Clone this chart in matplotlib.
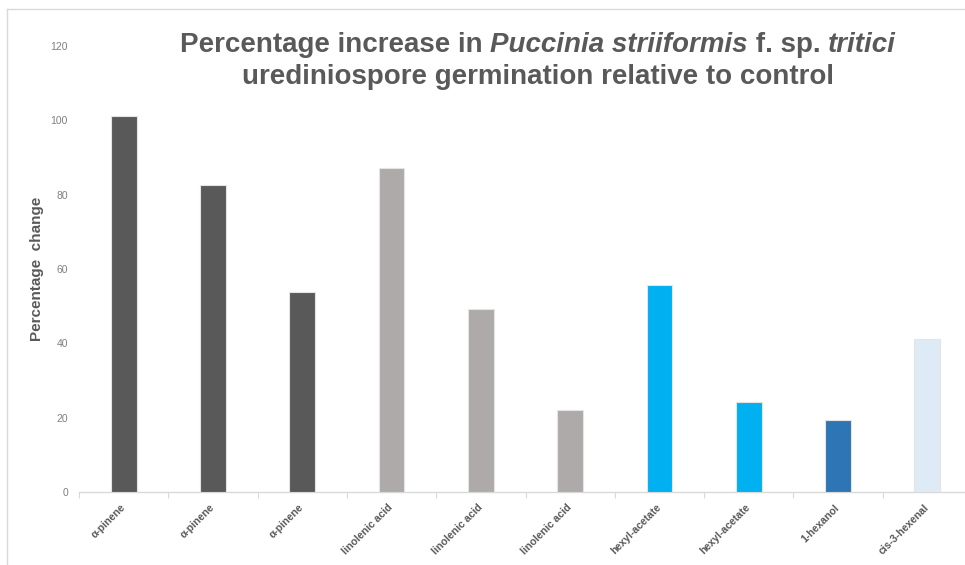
import matplotlib
matplotlib.use("Agg")
import matplotlib.pyplot as plt
from matplotlib.lines import Line2D

# Data
compounds = ["α-pinene", "α-pinene", "α-pinene",
             "linolenic acid", "linolenic acid", "linolenic acid",
             "hexyl-acetate", "hexyl-acetate", "1-hexanol", "cis-3-hexenal"]
pct_change = [101.3, 82.5, 53.8, 87.1, 49.3, 22.0, 55.7, 24.1, 19.4, 41.3]
bar_colors = ["#595959", "#595959", "#595959",
              "#AEAAAA", "#AEAAAA", "#AEAAAA",
              "#00B0F0", "#00B0F0", "#2E75B6", "#DEEBF7"]
y_ticks = [0, 20, 40, 60, 80, 100, 120]

plt.rcParams["font.family"] = ["Liberation Sans", "DejaVu Sans"]

W, H = 965, 565
fig = plt.figure(figsize=(W / 100, H / 100), dpi=100)
fig.patch.set_facecolor("white")

ax = fig.add_axes([79 / W, 73 / H, 893 / W, 446 / H])
x = list(range(len(compounds)))
ax.bar(x, pct_change, width=0.29, color=bar_colors,
       edgecolor="#E4E4E4", linewidth=0.8, zorder=3)

ax.set_xlim(-0.5, len(compounds) - 0.5)
ax.set_ylim(0, 120)
ax.set_yticks(y_ticks)
ax.set_yticklabels([str(t) for t in y_ticks], color="#808080", fontsize=7.5)
ax.tick_params(axis="y", length=0, pad=8)

ax.set_xticks(x)
ax.set_xticklabels(compounds, rotation=45, ha="right", va="center",
                   rotation_mode="anchor", fontsize=7.6, fontweight="bold",
                   color="#595959")
ax.tick_params(axis="x", which="major", length=0, pad=10)
ax.set_xticks([i - 0.5 for i in range(len(compounds) + 1)], minor=True)
ax.tick_params(axis="x", which="minor", length=4, color="#D9D9D9", width=0.8)

for side in ["top", "right", "left"]:
    ax.spines[side].set_visible(False)
ax.spines["bottom"].set_color("#D9D9D9")
ax.spines["bottom"].set_linewidth(1.0)

ax.set_ylabel("Percentage  change", fontsize=11, fontweight="bold",
              color="#595959", labelpad=14)
ax.yaxis.set_label_coords(-35 / 893, 0.5)

# Title with italic species name, drawn piece by piece
title_color = "#595959"
title_size = 20
line1 = [("Percentage increase in ", "normal"),
         ("Puccinia striiformis", "italic"),
         (" f. sp. ", "normal"),
         ("tritici", "italic")]
renderer = fig.canvas.get_renderer()
pieces = []
total = 0.0
for txt, style in line1:
    t = fig.text(0, 0, txt, fontsize=title_size, fontweight="bold",
                 fontstyle=style, color=title_color, ha="left", va="center")
    w = t.get_window_extent(renderer).width
    pieces.append((t, w))
    total += w
cx = 538
x0 = cx - total / 2
for t, w in pieces:
    t.set_position((x0 / W, 1 - 45 / H))
    x0 += w
fig.text(cx / W, 1 - 77 / H, "urediniospore germination relative to control",
         fontsize=title_size, fontweight="bold", color=title_color,
         ha="center", va="center")

# Frame lines along the top and left edges
fig.add_artist(Line2D([7 / W, 7 / W], [0, 1 - 9 / H], transform=fig.transFigure,
                      color="#D9D9D9", linewidth=1.0))
fig.add_artist(Line2D([7 / W, 1], [1 - 9 / H, 1 - 9 / H], transform=fig.transFigure,
                      color="#D9D9D9", linewidth=1.0))

fig.savefig("out.png", dpi=100, facecolor="white")
